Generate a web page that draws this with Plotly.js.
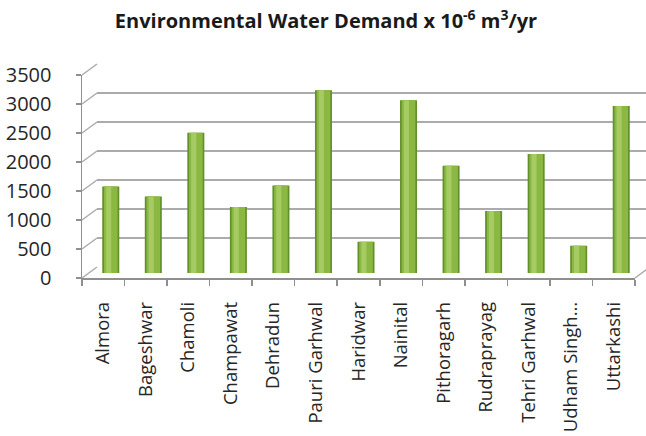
<!DOCTYPE html>
<html>
<head>
<meta charset="utf-8">
<script src="https://cdn.plot.ly/plotly-3.0.1.min.js"></script>
<style>
  html, body { margin: 0; padding: 0; background: #ffffff; }
  #chart { width: 646px; height: 436px; }
</style>
</head>
<body>
<div id="chart"></div>
<script>
// Districts of Uttarakhand and their environmental water demand (x 10^-6 m3/yr)
const districts = [
  "Almora", "Bageshwar", "Chamoli", "Champawat", "Dehradun", "Pauri Garhwal",
  "Haridwar", "Nainital", "Pithoragarh", "Rudraprayag", "Tehri Garhwal",
  "Udham Singh…", "Uttarkashi"
];
const demand = [1490, 1320, 2420, 1140, 1510, 3150, 540, 2980, 1850, 1070, 2050, 470, 2880];
const yTicks = [0, 500, 1000, 1500, 2000, 2500, 3000, 3500];

// Pseudo-3D frame: front axes, the mid plane where the cylinders stand, and the back wall.
const W = 646, H = 436;
const yMax = 3500;
const frontX = [82, 635], frontY = [278, 75];
const midX = [89.5, 642.5], midY = [273, 70];
const backX = [97, 650], backY = [267, 64];
const px = v => v / W;
const py = v => (H - v) / H;
const catSpan = (frontX[1] - frontX[0]) / districts.length;
const backRangeEnd = -0.5 + (W - backX[0]) / catSpan;

const gridColor = "#ababab";
const axisColor = "#8f8f8f";
const textColor = "#262626";

const traces = [
  // back wall: carries the horizontal gridlines
  { type: "scatter", x: [districts[0]], y: [0], xaxis: "x", yaxis: "y",
    mode: "markers", marker: { opacity: 0 }, hoverinfo: "skip", showlegend: false },
  // cylinder body: dark rim, main face, soft highlight
  { type: "bar", x: districts, y: demand, xaxis: "x2", yaxis: "y2", width: 0.4,
    marker: { color: "#62902a", line: { width: 0 } }, showlegend: false },
  { type: "bar", x: districts, y: demand, xaxis: "x2", yaxis: "y2", width: 0.32,
    marker: { color: "#8ab842", line: { width: 0 } }, showlegend: false },
  { type: "bar", x: districts, y: demand, xaxis: "x2", yaxis: "y2", width: 0.12, offset: -0.11,
    marker: { color: "#a6cb62", line: { width: 0 } }, showlegend: false },
  // front axes: ticks and labels
  { type: "scatter", x: [districts[0]], y: [0], xaxis: "x3", yaxis: "y3",
    mode: "markers", marker: { opacity: 0 }, hoverinfo: "skip", showlegend: false }
];

const hidden = { visible: false, fixedrange: true };

// side-wall and floor edges joining the front axes to the back wall
const shapes = yTicks.map(v => ({
  type: "line", xref: "paper", yref: "paper",
  x0: px(frontX[0]), y0: py(frontY[0] + (frontY[1] - frontY[0]) * v / yMax),
  x1: px(backX[0]), y1: py(backY[0] + (backY[1] - backY[0]) * v / yMax),
  line: { color: gridColor, width: 1.5 }
}));
shapes.push({
  type: "line", xref: "paper", yref: "paper",
  x0: px(frontX[1]), y0: py(frontY[0]), x1: px(backX[1]), y1: py(backY[0]),
  line: { color: gridColor, width: 1.5 }
});

const layout = {
  width: W, height: H,
  margin: { l: 0, r: 0, t: 0, b: 0 },
  paper_bgcolor: "#ffffff",
  plot_bgcolor: "rgba(0,0,0,0)",
  barmode: "overlay",
  showlegend: false,
  title: {
    text: "Environmental Water Demand x 10<sup>-6</sup> m<sup>3</sup>/yr",
    font: { family: "Open Sans", size: 20, weight: 700, color: "#1a1a1a" },
    x: 326 / W, xanchor: "center", y: 1 - 21 / H, yanchor: "middle", yref: "container"
  },
  xaxis: Object.assign({}, hidden, {
    visible: true, showticklabels: false, ticks: "", showline: false, showgrid: false,
    zeroline: false, type: "category", categoryorder: "array", categoryarray: districts,
    domain: [px(backX[0]), 1], range: [-0.5, backRangeEnd], anchor: "y"
  }),
  yaxis: {
    domain: [py(backY[0]), py(backY[1])], range: [0, yMax], dtick: 500,
    showgrid: true, gridcolor: gridColor, gridwidth: 1.5, zeroline: false,
    showticklabels: false, ticks: "", showline: false, anchor: "x", fixedrange: true
  },
  xaxis2: Object.assign({}, hidden, {
    type: "category", categoryorder: "array", categoryarray: districts,
    domain: [px(midX[0]), px(midX[1])], range: [-0.5, districts.length - 0.5], anchor: "y2"
  }),
  yaxis2: Object.assign({}, hidden, {
    domain: [py(midY[0]), py(midY[1])], range: [0, yMax], anchor: "x2"
  }),
  xaxis3: {
    type: "category", categoryorder: "array", categoryarray: districts,
    domain: [px(frontX[0]), px(frontX[1])], range: [-0.5, districts.length - 0.5],
    anchor: "y3", showgrid: false, zeroline: false,
    showline: true, linecolor: axisColor, linewidth: 1.5,
    ticks: "outside", tickson: "boundaries", ticklen: 6, tickcolor: axisColor, tickwidth: 1.5,
    tickangle: -90, ticklabelstandoff: 15,
    tickfont: { family: "Open Sans", size: 18.5, color: textColor }, fixedrange: true
  },
  yaxis3: {
    domain: [py(frontY[0]), py(frontY[1])], range: [0, yMax], tickvals: yTicks,
    anchor: "x3", showgrid: false, zeroline: false,
    showline: true, linecolor: axisColor, linewidth: 1.5,
    ticks: "outside", ticklen: 5, tickcolor: axisColor, tickwidth: 1.5,
    ticklabelstandoff: 20,
    tickfont: { family: "Open Sans", size: 20, color: textColor }, fixedrange: true
  },
  shapes: shapes
};

Plotly.newPlot("chart", traces, layout, { staticPlot: true, displayModeBar: false });
</script>
</body>
</html>
